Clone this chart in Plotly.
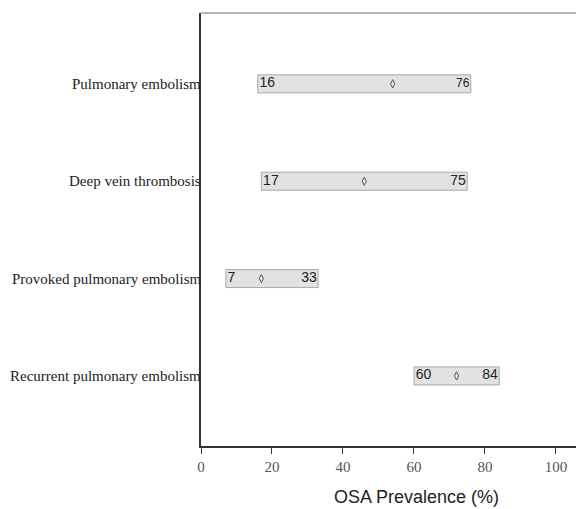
import plotly.graph_objects as go

categories = ["Pulmonary embolism", "Deep vein thrombosis", "Provoked pulmonary embolism", "Recurrent pulmonary embolism"]
low = [16, 17, 7, 60]
high = [76, 75, 33, 84]
mid = [54, 46, 17, 72]
x_ticks = [0, 20, 40, 60, 80, 100]

ypos = list(range(len(categories)))

fig = go.Figure()
fig.add_trace(go.Bar(
    y=ypos, x=[h - l for h, l in zip(high, low)], base=low, orientation="h",
    width=0.185, marker=dict(color="#e2e2e2", line=dict(color="#a8a8a8", width=1)),
    hoverinfo="skip", showlegend=False))
fig.add_trace(go.Scatter(
    y=ypos, x=mid, mode="markers",
    marker=dict(symbol="diamond-tall-open", size=6, color="#555555", line=dict(width=1)),
    showlegend=False))
fig.add_trace(go.Scatter(
    y=ypos, x=[v + 0.5 for v in low], mode="text", text=[str(v) for v in low], textposition="middle right",
    textfont=dict(family="Liberation Sans, Arial", size=14, color="#222222"), showlegend=False))
fig.add_trace(go.Scatter(
    y=ypos, x=[v - 0.4 for v in high], mode="text", text=[str(v) for v in high], textposition="middle left",
    textfont=dict(family="Liberation Sans, Arial", size=[12, 14, 14, 14], color="#222222"), showlegend=False))

cat_annotations = [dict(text=c, xref="paper", yref="y", x=0, y=p, xanchor="right", yanchor="middle",
                        xshift=1, showarrow=False, borderpad=0,
                        font=dict(family="Liberation Serif, Times New Roman", size=15, color="#222222"))
                   for c, p in zip(categories, ypos)]

fig.update_layout(
    width=584, height=509, margin=dict(l=193, r=8, t=5, b=71),
    paper_bgcolor="white", plot_bgcolor="white",
    xaxis=dict(range=[0, 107.9], tickvals=x_ticks, ticks="outside", ticklen=6, tickcolor="#333333",
               showline=True, linecolor="#333333", linewidth=1.5, showgrid=False, zeroline=False,
               automargin=False,
               tickfont=dict(family="Liberation Serif, Times New Roman", size=15, color="#555555")),
    yaxis=dict(range=[3.72, -0.728], tickvals=ypos, showticklabels=False, ticks="",
               showline=True, linecolor="#333333", linewidth=1.5, showgrid=False, zeroline=False,
               automargin=False),
    shapes=[dict(type="line", xref="paper", yref="paper", x0=0, x1=1, y0=1, y1=1,
                 line=dict(color="#b5b5b5", width=2))],
    annotations=cat_annotations + [dict(text="OSA Prevalence (%)", xref="paper", yref="paper",
                      x=(416 - 201) / 383, y=-51 / 433, xanchor="center", yanchor="middle",
                      showarrow=False,
                      font=dict(family="Liberation Sans, Arial", size=18, color="#222222"))],
)

fig.write_html("out.html")
